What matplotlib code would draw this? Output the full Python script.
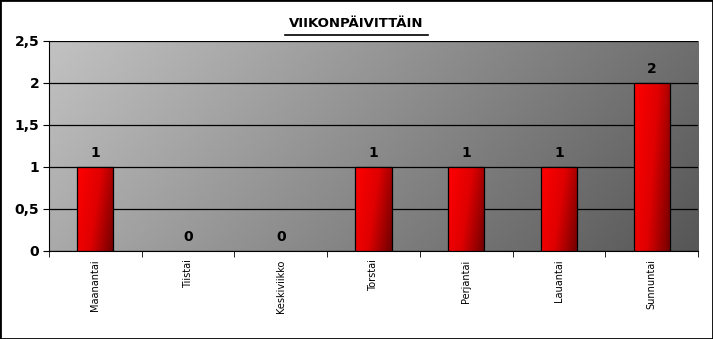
import matplotlib

matplotlib.use("Agg")
import matplotlib.pyplot as plt  # noqa: E402
import numpy as np  # noqa: E402
from matplotlib.colors import LinearSegmentedColormap  # noqa: E402
from matplotlib.lines import Line2D  # noqa: E402
from matplotlib.patches import Rectangle  # noqa: E402
from matplotlib.ticker import FuncFormatter, MultipleLocator  # noqa: E402

# data
days = ["Maanantai", "Tiistai", "Keskiviikko", "Torstai", "Perjantai", "Lauantai", "Sunnuntai"]
counts = [1, 0, 0, 1, 1, 1, 2]
title = "VIIKONPÄIVITTÄIN"

fig = plt.figure(figsize=(7.13, 3.39), dpi=100)
ax = fig.add_axes([0.0687, 0.2596, 0.9103, 0.6195])

# gray diagonal gradient plot area
W, H = 649, 210
xx, yy = np.meshgrid(np.linspace(0, 1, 300), np.linspace(0, 1, 120))
t = (xx * W + (1 - yy) * H * 0.9) / (W + H * 0.9)
gray = LinearSegmentedColormap.from_list("g", ["#c2c2c2", "#565656"])
ax.imshow(t, cmap=gray, extent=[0, 1, 0, 1], transform=ax.transAxes,
          origin="lower", aspect="auto", zorder=0, interpolation="bilinear")

x = np.arange(len(days))
bars = ax.bar(x, counts, width=0.39, color="none", edgecolor="none", zorder=3)
red = LinearSegmentedColormap.from_list("r", ["#ff0000", "#e00000", "#700000"])
gx, gy = np.meshgrid(np.linspace(0, 1, 60), np.linspace(0, 1, 60))
grad = 0.75 * gx + 0.25 * (1 - gy)
for b in bars:
    if b.get_height() <= 0:
        continue
    x0, w, h = b.get_x(), b.get_width(), b.get_height()
    im = ax.imshow(grad, cmap=red, extent=[x0, x0 + w, 0, h], aspect="auto",
                   origin="lower", zorder=3, interpolation="bilinear")
    im.set_clip_path(Rectangle((x0, 0), w, h, transform=ax.transData))
    ax.add_patch(Rectangle((x0, 0), w, h, fill=False, edgecolor="black", lw=0.9, zorder=4))

for xi, c in zip(x, counts):
    ax.text(xi, c + 0.08, f"{c}", ha="center", va="bottom", fontsize=10,
            fontweight="bold", zorder=5)

ax.set_xlim(-0.5, len(days) - 0.5)
ax.set_ylim(0, 2.5)
ax.yaxis.set_major_locator(MultipleLocator(0.5))
ax.yaxis.set_major_formatter(FuncFormatter(lambda v, p: f"{v:g}".replace(".", ",")))
ax.grid(axis="y", color="black", lw=0.9, zorder=2)
ax.set_axisbelow(False)

ax.set_xticks(x)
ax.set_xticklabels(days, rotation=90, fontsize=7)
ax.set_xticks(np.arange(-0.5, len(days)), minor=True)
ax.tick_params(axis="x", which="major", length=0, pad=6)
ax.tick_params(axis="x", which="minor", length=4, color="black")
ax.tick_params(axis="y", length=4, labelsize=10, pad=3)
for lbl in ax.get_yticklabels():
    lbl.set_fontweight("bold")

for s in ["top", "right"]:
    ax.spines[s].set_visible(False)
ax.spines["left"].set_color("black")
ax.spines["bottom"].set_color("black")

fig.text(0.5, 0.93, title, ha="center", va="center", fontsize=9.5, fontweight="bold")
fig.add_artist(Line2D([0.40, 0.60], [0.898, 0.898], color="black", lw=1.2,
                      transform=fig.transFigure))
fig.add_artist(Rectangle((0, 0), 1, 1, transform=fig.transFigure, fill=False,
                         edgecolor="black", lw=2))

fig.savefig("out.png", dpi=100)
